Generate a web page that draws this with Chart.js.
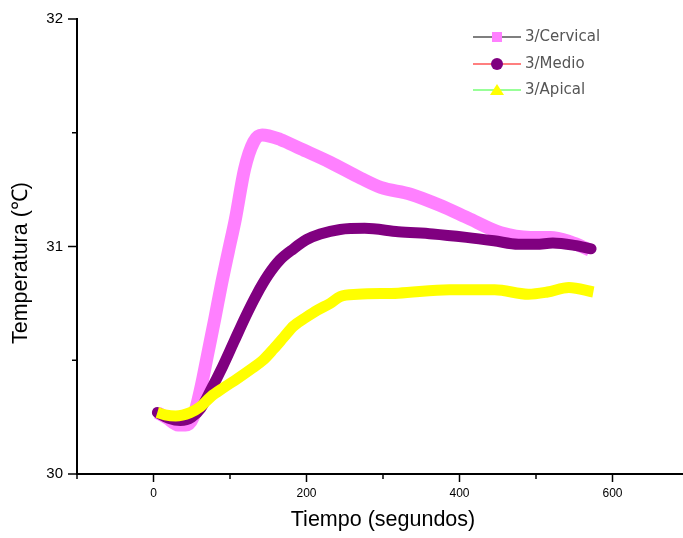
<!DOCTYPE html>
<html><head><meta charset="utf-8">
<script src="https://cdn.jsdelivr.net/npm/chart.js@4/dist/chart.umd.min.js"></script>
<style>
html,body{margin:0;padding:0;background:#fff;overflow:hidden;width:683px;height:538px}
#wrap{position:absolute;left:0;top:0;width:690px;height:538px}
</style>
</head><body><div id="wrap"><canvas id="c" width="690" height="538"></canvas></div>
<script>
const seriesNames = ['3/Cervical', '3/Medio', '3/Apical'];

const cervicalX = [5, 18, 32, 42, 52, 62, 71, 80, 88, 98, 107, 119, 131, 142, 166, 192, 231, 271, 297, 336, 375, 414, 454, 493, 519, 545, 570];
const cervicalY = [30.27, 30.245, 30.215, 30.215, 30.25, 30.38, 30.53, 30.68, 30.82, 30.98, 31.12, 31.34, 31.46, 31.49, 31.47, 31.43, 31.37, 31.30, 31.26, 31.23, 31.18, 31.12, 31.06, 31.04, 31.04, 31.02, 30.985];

const medioX = [5, 20, 35, 50, 62, 75, 90, 105, 120, 135, 150, 165, 183, 200, 218, 244, 276, 320, 365, 409, 445, 477, 500, 522, 550, 572];
const medioY = [30.27, 30.245, 30.235, 30.25, 30.29, 30.37, 30.47, 30.58, 30.69, 30.79, 30.875, 30.94, 30.99, 31.03, 31.055, 31.075, 31.08, 31.065, 31.055, 31.04, 31.025, 31.01, 31.01, 31.015, 31.005, 30.99];

const apicalX = [5, 15, 29, 48, 61, 75, 92, 110, 127, 143, 157, 170, 183, 200, 214, 231, 244, 267, 320, 387, 446, 490, 515, 543, 575];
const apicalY = [30.27, 30.26, 30.255, 30.27, 30.295, 30.34, 30.38, 30.42, 30.46, 30.50, 30.55, 30.60, 30.65, 30.69, 30.72, 30.75, 30.78, 30.79, 30.795, 30.81, 30.81, 30.79, 30.80, 30.82, 30.80];

const xTickLabels = [0, 200, 400, 600];
const yTickLabels = [30, 31, 32];
const xTitle = 'Tiempo (segundos)';
const yTitle = 'Temperatura (℃)';

const lineColors = ['#FF80FF', '#800080', '#FFFF00'];
const legendLineColors = ['#000000', '#FF0000', '#33FF33'];
const legendMarkers = ['rect', 'circle', 'triangle'];

const toPts = (xs, ys) => xs.map((x, i) => ({x: x, y: ys[i]}));

const ticksPlugin = {
  id: 'ticksPlugin',
  afterDraw(chart) {
    const ctx = chart.ctx;
    const xs = chart.scales.x, ys = chart.scales.y;
    const axisY = chart.chartArea.bottom, axisX = chart.chartArea.left;
    ctx.save();
    ctx.strokeStyle = '#000';
    ctx.lineWidth = 1.5;
    xs.ticks.forEach(t => {
      const px = xs.getPixelForValue(t.value);
      const len = (t.value % 200 === 0) ? 8 : 5;
      ctx.beginPath(); ctx.moveTo(px, axisY); ctx.lineTo(px, axisY + len); ctx.stroke();
    });
    ys.ticks.forEach(t => {
      const py = ys.getPixelForValue(t.value);
      const len = Number.isInteger(t.value) ? 9 : 5;
      ctx.beginPath(); ctx.moveTo(axisX - len, py); ctx.lineTo(axisX, py); ctx.stroke();
    });
    // y axis title
    ctx.save();
    ctx.translate(21, 263);
    ctx.rotate(-Math.PI / 2);
    ctx.font = '21.5px "Liberation Sans"';
    ctx.fillStyle = '#000';
    ctx.textAlign = 'center';
    ctx.textBaseline = 'middle';
    ctx.fillText(yTitle, 0, 0);
    ctx.restore();
    // legend
    const lx1 = 473, lx2 = 521, mx = 497, tx = 525, rows = [37, 64, 90];
    ctx.font = '15px "DejaVu Sans"';
    ctx.textBaseline = 'middle';
    ctx.textAlign = 'left';
    seriesNames.forEach((name, i) => {
      const y = rows[i];
      ctx.strokeStyle = legendLineColors[i];
      ctx.lineWidth = 1.2;
      ctx.beginPath(); ctx.moveTo(lx1, y); ctx.lineTo(lx2, y); ctx.stroke();
      ctx.fillStyle = lineColors[i];
      if (legendMarkers[i] === 'rect') {
        ctx.fillRect(mx - 5, y - 5, 10, 10);
      } else if (legendMarkers[i] === 'circle') {
        ctx.beginPath(); ctx.arc(mx, y, 6, 0, Math.PI * 2); ctx.fill();
      } else {
        ctx.beginPath(); ctx.moveTo(mx, y - 6); ctx.lineTo(mx + 7, y + 5); ctx.lineTo(mx - 7, y + 5); ctx.closePath(); ctx.fill();
      }
      ctx.fillStyle = '#555';
      ctx.fillText(name, tx, y);
    });
    ctx.restore();
  }
};

const mkDs = (label, pts, color, width, cap, order) => ({
  label: label, data: pts, borderColor: color, backgroundColor: color,
  borderWidth: width, pointRadius: 0, fill: false, order: order,
  cubicInterpolationMode: 'monotone', borderCapStyle: cap, borderJoinStyle: 'round'
});

new Chart(document.getElementById('c'), {
  type: 'line',
  data: {
    datasets: [
      mkDs(seriesNames[0], toPts(cervicalX, cervicalY), lineColors[0], 13, 'butt', 3),
      mkDs(seriesNames[1], toPts(medioX, medioY), lineColors[1], 11, 'round', 2),
      mkDs(seriesNames[2], toPts(apicalX, apicalY), lineColors[2], 11, 'butt', 1)
    ]
  },
  options: {
    responsive: false, animation: false, devicePixelRatio: 1,
    layout: {padding: {left: 0, top: 19, right: 1, bottom: 0}},
    plugins: {legend: {display: false}, tooltip: {enabled: false}},
    scales: {
      x: {
        type: 'linear', min: -100, max: 700,
        afterFit(s) { s.height = 64; s.paddingLeft = 0; s.paddingRight = 0; },
        ticks: {stepSize: 100, autoSkip: false, maxRotation: 0,
          callback: v => xTickLabels.includes(v) ? String(v) : '',
          font: {family: 'Liberation Sans', size: 12}, color: '#000', padding: 12},
        grid: {display: false, drawTicks: false},
        border: {display: true, color: '#000', width: 2},
        title: {display: true, text: xTitle, color: '#000',
          font: {family: 'Liberation Sans', size: 21.5}, padding: {top: 0, bottom: 5}}
      },
      y: {
        type: 'linear', min: 30, max: 32,
        afterFit(s) { s.width = 77; s.paddingTop = 0; s.paddingBottom = 0; },
        ticks: {stepSize: 0.5, autoSkip: false,
          callback: v => yTickLabels.includes(v) ? String(v) : '',
          font: {family: 'Liberation Sans', size: 15}, color: '#000', padding: 14},
        grid: {display: false, drawTicks: false},
        border: {display: true, color: '#000', width: 2},
        title: {display: false}
      }
    }
  },
  plugins: [ticksPlugin]
});
</script>
</body></html>
